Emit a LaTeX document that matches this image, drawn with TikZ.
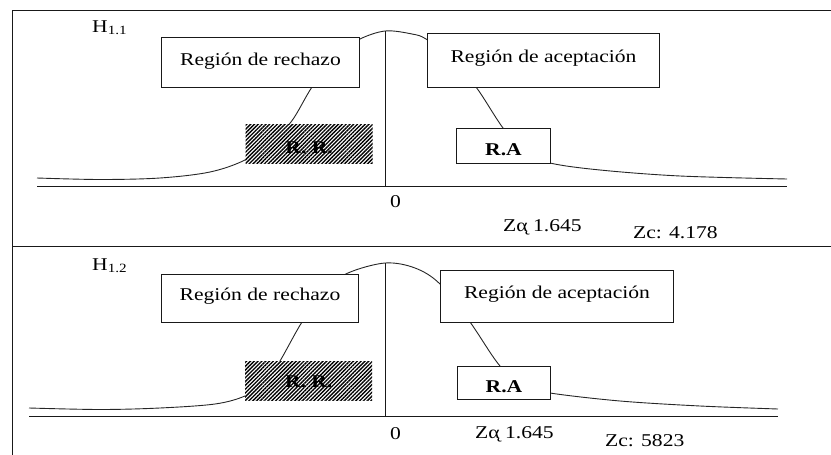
\documentclass[tikz,border=0pt]{standalone}
\usepackage{fontspec}
\setmainfont{Liberation Serif}[FakeStretch=1.2]
\usetikzlibrary{patterns.meta}
\tikzset{
  ln/.style={draw=black!90, line width=1pt},
  crv/.style={draw=black!85, line width=0.9pt},
  box/.style={rectangle, draw=black!90, fill=white, line width=1pt, inner sep=0pt, anchor=north west},
  hatch/.style={rectangle, inner sep=0pt, anchor=north west, preaction={fill=white},
    pattern={Lines[angle=45,distance=2.7pt,line width=1.35pt]}, pattern color=black},
  lbl/.style={inner sep=0pt, anchor=base west}
}
\begin{document}
\begin{tikzpicture}[x=1pt,y=-1pt,font=\fontsize{18}{20}\selectfont]
\useasboundingbox (0,0) rectangle (831,455);
% frame
\draw[ln] (12,455) -- (12,10) -- (831,10);
\draw[ln] (12,246) -- (831,246);
% ---------- top panel ----------
\draw[crv] plot[smooth,tension=0.55] coordinates {(37,178) (100,179.5) (160,178) (210,172) (245,160) (268,143) (291,122) (312,87) (335,57) (358,40) (385,31) (412,34) (426,39) (450,58) (476,87) (503,128) (525,152) (550,163) (600,170) (680,176) (787,179)};
\draw[ln] (37,186) -- (787,186);
\draw[ln] (385,31) -- (385,186);
\node[box, minimum width=198pt, text height=28pt, text depth=22pt] (rech1) at (161,37) {Región de rechazo\hspace{10pt}};
\node[box, minimum width=232pt, text height=29pt, text depth=25pt] (acep1) at (427,33) {Región de aceptación\hspace{19pt}};
\node[hatch, minimum width=127pt, text height=29pt, text depth=10pt] (rr1) at (245,124) {\textbf{R. R.}};
\node[box, minimum width=94pt, text height=27pt, text depth=8pt] (ra1) at (456,128) {\textbf{R.A}};
\node[lbl] (h1) at (92,32) {H\textsubscript{1.1}};
\node[lbl] (zero1) at (390,207) {0};
\node[lbl] (za1) at (503,231) {Zα̨ 1.645};
\node[lbl] (zc1) at (633,238) {Zc: 4.178};
% ---------- bottom panel ----------
\draw[crv] plot[smooth,tension=0.55] coordinates {(29,408) (100,409.5) (160,408) (215,404) (245,396) (265,383) (280,361) (302,322) (325,290) (348,273) (385,263) (415,268) (440,284) (470,322) (500,366) (525,386) (550,393) (620,401) (700,406) (778,409)};
\draw[ln] (29,416) -- (778,416);
\draw[ln] (385,263) -- (385,416);
\node[box, minimum width=197pt, text height=26pt, text depth=22pt] (rech2) at (161,274) {Región de rechazo\hspace{9pt}};
\node[box, minimum width=233pt, text height=28pt, text depth=24pt] (acep2) at (440,270) {Región de aceptación\hspace{19pt}};
\node[hatch, minimum width=127pt, text height=26pt, text depth=13pt] (rr2) at (245,361) {\textbf{R. R.}};
\node[box, minimum width=93pt, text height=26pt, text depth=7pt] (ra2) at (457,366) {\textbf{R.A}};
\node[lbl] (h2) at (92,270) {H\textsubscript{1.2}};
\node[lbl] (zero2) at (390,439) {0};
\node[lbl] (za2) at (475,438) {Zα̨ 1.645};
\node[lbl] (zc2) at (605,446) {Zc: 5823};
\end{tikzpicture}
\end{document}
